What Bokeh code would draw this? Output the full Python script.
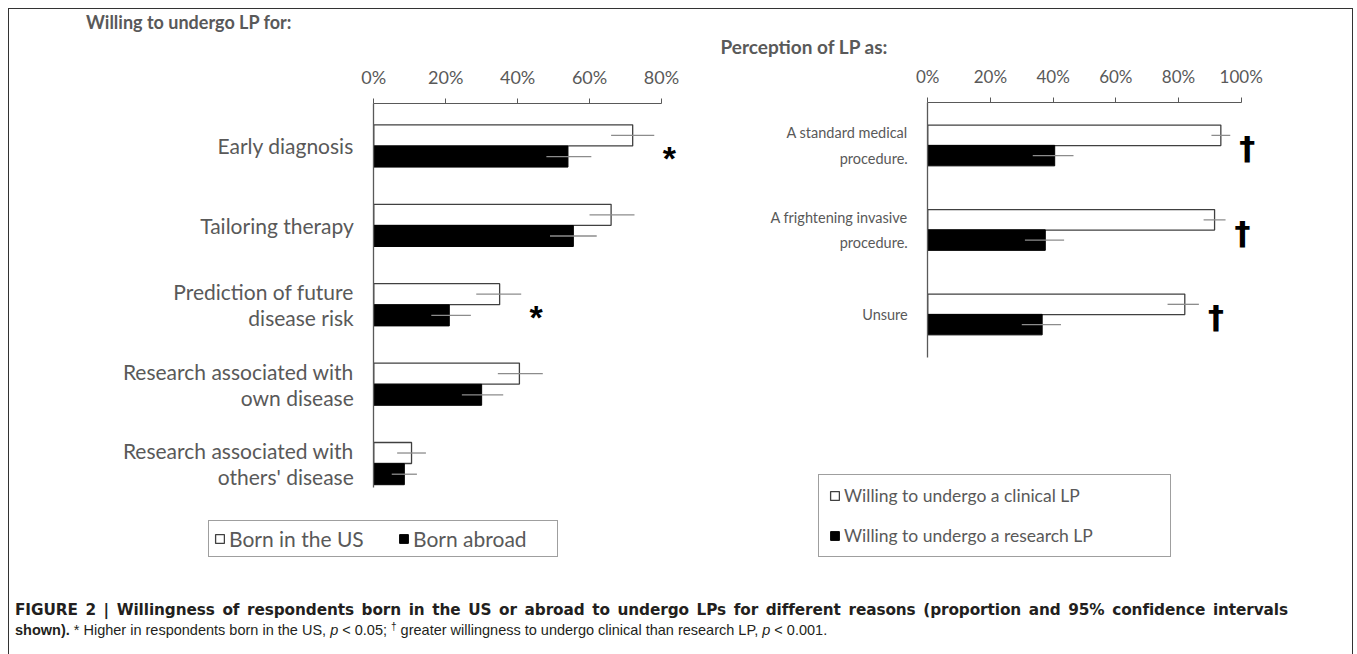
from bokeh.plotting import figure
from bokeh.models import (Range1d, FixedTicker, PrintfTickFormatter, Legend, LegendItem,
                          ColumnDataSource, Div)
from bokeh.layouts import row, column
from bokeh.transform import dodge
from bokeh.core.properties import value
from bokeh.embed import file_html
from bokeh.resources import INLINE

# ---------------- data ----------------
left_title = "Willing to undergo LP for:"
left_cats = ["Early diagnosis", "Tailoring therapy", "Prediction of future\ndisease risk",
             "Research associated with\nown disease", "Research associated with\nothers' disease"]
us = [72, 66, 35, 40.5, 10.5]
us_lo = [66, 60, 28.5, 34.5, 6.5]
us_hi = [78, 72.5, 41, 47, 14.5]
abroad = [54, 55.5, 21, 30, 8.5]
abroad_lo = [48, 49, 16, 24.5, 5]
abroad_hi = [60.5, 62, 27, 36, 12]
left_marks = ["*", "", "*", "", ""]
left_ticks = [0, 20, 40, 60, 80]
left_series = ["Born in the US", "Born abroad"]

right_title = "Perception of LP as:"
right_cats = ["A standard medical\nprocedure.", "A frightening invasive\nprocedure.", "Unsure"]
clinical = [93.5, 91.5, 82]
clinical_lo = [90.5, 88, 76.5]
clinical_hi = [96.5, 95, 86.5]
research = [40.5, 37.5, 36.5]
research_lo = [33.5, 31, 30]
research_hi = [46.5, 43.5, 42.5]
right_marks = ["\u2020", "\u2020", "\u2020"]
right_ticks = [0, 20, 40, 60, 80, 100]
right_series = ["Willing to undergo a clinical LP", "Willing to undergo a research LP"]

# ---------------- style ----------------
FONT = "Lato"
GRAY = "#595959"
EDGE = "#404040"
ERR = "#8c8c8c"


def panel(title, cats, a, a_lo, a_hi, b, b_lo, b_hi, marks, ticks, series, cfg):
    idx = list(range(len(cats)))
    src = ColumnDataSource(dict(y=idx, a=a, a_lo=a_lo, a_hi=a_hi, b=b, b_lo=b_lo, b_hi=b_hi,
                                mark=marks))
    p = figure(width=cfg["width"], height=cfg["height"],
               x_range=Range1d(cfg["x_start"], cfg["x_end"]),
               y_range=Range1d(cfg["y_bottom"], cfg["y_top"]), x_axis_location="above",
               y_axis_location="left", output_backend="svg", toolbar_location=None,
               min_border_left=0, min_border_right=0, min_border_top=cfg["border_top"],
               min_border_bottom=0, title=title)
    p.outline_line_color = None
    p.grid.visible = False
    p.background_fill_color = "white"
    p.border_fill_color = "white"

    t = p.title
    t.align = "left"
    t.offset = cfg["title_offset"]
    t.standoff = 0
    t.text_font = FONT
    t.text_font_size = cfg["title_size"]
    t.text_font_style = "bold"
    t.text_color = GRAY

    xa = p.xaxis[0]
    xa.fixed_location = cfg["axis_y"]
    xa.ticker = FixedTicker(ticks=ticks)
    xa.formatter = PrintfTickFormatter(format="%d%%")
    xa.bounds = (ticks[0], ticks[-1])
    xa.major_tick_out = 5
    xa.major_tick_in = 0
    xa.minor_tick_out = 0
    xa.minor_tick_in = 0
    xa.axis_line_color = GRAY
    xa.major_tick_line_color = GRAY
    xa.major_label_text_font = FONT
    xa.major_label_text_font_size = cfg["tick_size"]
    xa.major_label_text_color = GRAY
    xa.major_label_standoff = cfg["tick_standoff"]

    ya = p.yaxis[0]
    ya.fixed_location = 0
    ya.ticker = FixedTicker(ticks=idx)
    ya.major_label_overrides = {i: c for i, c in zip(idx, cats)}
    ya.bounds = (cfg["axis_y"], cfg["axis_y_end"])
    ya.major_tick_out = 0
    ya.major_tick_in = 0
    ya.minor_tick_out = 0
    ya.minor_tick_in = 0
    ya.axis_line_color = GRAY
    ya.axis_line_width = 1.3
    ya.major_label_text_font = FONT
    ya.major_label_text_font_size = cfg["cat_size"]
    ya.major_label_text_line_height = cfg["cat_lh"]
    ya.major_label_text_color = GRAY
    ya.major_label_standoff = 20

    off = cfg["off"]
    ra = p.hbar(y=dodge("y", -off, range=p.y_range), left=0, right="a", height=cfg["bar_h"],
                source=src, fill_color="white", line_color=EDGE, line_width=1.3)
    rb = p.hbar(y=dodge("y", off, range=p.y_range), left=0, right="b", height=cfg["bar_h"],
                source=src, fill_color="black", line_color="black", line_width=1)
    p.segment(x0="a_lo", x1="a_hi", y0=dodge("y", -off, range=p.y_range),
              y1=dodge("y", -off, range=p.y_range), source=src, line_color=ERR, line_width=1.3)
    p.segment(x0="b_lo", x1="b_hi", y0=dodge("y", off, range=p.y_range),
              y1=dodge("y", off, range=p.y_range), source=src, line_color=ERR, line_width=1.3)
    p.text(x="a_hi", y="y", text="mark", source=src, x_offset=cfg["mark_dx"],
           y_offset=cfg["mark_dy"], text_align="center", text_baseline="alphabetic",
           text_font=value(cfg["mark_font"]), text_font_size=cfg["mark_size"],
           text_font_style="bold", text_color="black")

    legend = Legend(items=[LegendItem(label=series[0], renderers=[ra]),
                           LegendItem(label=series[1], renderers=[rb])],
                    location=cfg["legend_loc"], orientation=cfg["legend_orient"])
    legend.border_line_color = EDGE
    legend.border_line_width = 1.2
    legend.background_fill_color = "white"
    legend.background_fill_alpha = 1
    legend.label_text_font = FONT
    legend.label_text_font_size = cfg["legend_size"]
    legend.label_text_color = GRAY
    legend.glyph_width = 11
    legend.glyph_height = 11
    legend.label_standoff = 4
    legend.margin = 0
    legend.padding = cfg["legend_pad"]
    legend.spacing = cfg["legend_spacing"]
    legend.label_width = cfg["legend_label_w"]
    p.add_layout(legend, "center")
    return p


# left panel: heading in its own block above (page y 9-33); figure from y 33,
# frame top at page y 59; category step 79.4 px, first centre at 145.5
left_cfg = dict(width=680, height=542, border_top=26,
                x_start=-101.3, x_end=87.8,
                y_top=-1.089, y_bottom=5.409, axis_y=-0.535, axis_y_end=4.30,
                bar_h=0.2645, off=0.1335, title_offset=77, title_size="18px",
                tick_size="18px", tick_standoff=10, cat_size="21px", cat_lh=1.05,
                legend_loc=(199, 18), legend_orient="horizontal", legend_size="21px",
                legend_pad=5, legend_spacing=30, legend_label_w=139,
                mark_font="Liberation Sans", mark_size="34px", mark_dx=15, mark_dy=12)

# right panel: frame top at page y 57 (9 + 48); category step 84.5 px, first centre at 145
right_cfg = dict(width=663, height=566, border_top=48,
                 x_start=-76.0, x_end=135.5,
                 y_top=-1.041, y_bottom=5.089, axis_y=-0.509, axis_y_end=2.509,
                 bar_h=0.2426, off=0.12, title_offset=31, title_size="19px",
                 tick_size="17px", tick_standoff=10, cat_size="14.5px", cat_lh=1.52,
                 legend_loc=(129, 18), legend_orient="vertical", legend_size="17.5px",
                 legend_pad=10, legend_spacing=19, legend_label_w=316,
                 mark_font="DejaVu Sans", mark_size="32px", mark_dx=17, mark_dy=3)

left = panel("", left_cats, us, us_lo, us_hi, abroad, abroad_lo, abroad_hi, left_marks,
             left_ticks, left_series, left_cfg)
left_heading = Div(
    text=('<div style="font-family: Lato, sans-serif; font-size: 18px; font-weight: bold; '
          'color: %s; line-height: 22px; padding: 2px 0 0 77px; white-space: nowrap;">%s</div>'
          % (GRAY, left_title)),
    width=680, height=24, margin=0)
right = panel(right_title, right_cats, clinical, clinical_lo, clinical_hi, research, research_lo,
              research_hi, right_marks, right_ticks, right_series, right_cfg)

caption_html = (
    '<div style="font-family: \'Liberation Sans\', Arial, sans-serif; font-size: 14.5px; '
    'line-height: 20px; color: #231f20; padding: 25px 0 0 6px;">'
    '<div style="width: 1273px; text-align: justify; text-align-last: justify; '
    'font-family: \'DejaVu Sans\', sans-serif; font-size: 15.3px; font-weight: bold; '
    'letter-spacing: -0.1px; white-space: nowrap;">'
    'FIGURE 2 | Willingness of respondents born in the US or abroad to undergo LPs for '
    'different reasons (proportion and 95% confidence intervals</div>'
    '<div style="white-space: nowrap;"><b>shown).</b> '
    '* Higher in respondents born in the US, <i>p</i> &lt; 0.05; '
    '<span style="font-size: 10px; vertical-align: 5px; line-height: 0;">\u2020</span> greater '
    'willingness to undergo clinical than research LP, <i>p</i> &lt; 0.001.</div></div>'
)
caption = Div(text=caption_html, width=1343, height=80, margin=0)

layout = column(row(column(left_heading, left), right), caption, margin=(8, 0, 0, 8),
                styles={"border-left": "1px solid #333", "border-top": "1px solid #333",
                        "border-right": "1px solid #333"})

open("out.html", "w").write(file_html(layout, INLINE))
